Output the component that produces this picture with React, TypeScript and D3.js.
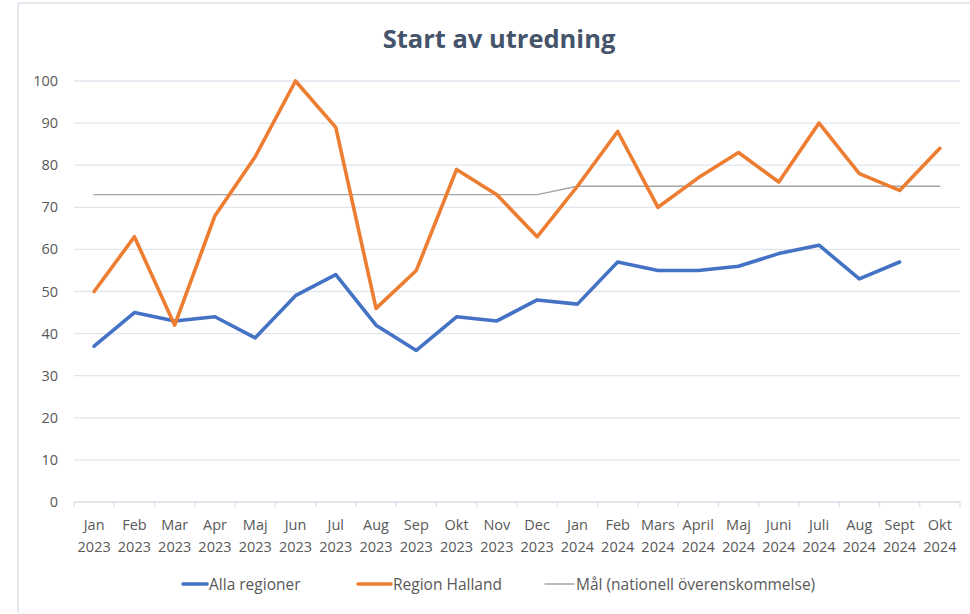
import React from 'react';
import * as d3 from 'd3';

const months = ['Jan', 'Feb', 'Mar', 'Apr', 'Maj', 'Jun', 'Jul', 'Aug', 'Sep', 'Okt', 'Nov', 'Dec', 'Jan', 'Feb', 'Mars', 'April', 'Maj', 'Juni', 'Juli', 'Aug', 'Sept', 'Okt'];
const years = ['2023', '2023', '2023', '2023', '2023', '2023', '2023', '2023', '2023', '2023', '2023', '2023', '2024', '2024', '2024', '2024', '2024', '2024', '2024', '2024', '2024', '2024'];
const allaRegioner: (number | null)[] = [37, 45, 43, 44, 39, 49, 54, 42, 36, 44, 43, 48, 47, 57, 55, 55, 56, 59, 61, 53, 57, null];
const regionHalland: (number | null)[] = [50, 63, 42, 68, 82, 100, 89, 46, 55, 79, 73, 63, 75, 88, 70, 77, 83, 76, 90, 78, 74, 84];
const malNationell: (number | null)[] = [73, 73, 73, 73, 73, 73, 73, 73, 73, 73, 73, 73, 75, 75, 75, 75, 75, 75, 75, 75, 75, 75];
const yTicks = [0, 10, 20, 30, 40, 50, 60, 70, 80, 90, 100];
const title = 'Start av utredning';
const seriesNames = ['Alla regioner', 'Region Halland', 'Mål (nationell överenskommelse)'];

const W = 970;
const H = 614;
const FONT = '"Open Sans", sans-serif';

export default function App() {
  const idx = months.map((_, i) => i);
  const x = d3.scaleBand<number>().domain(idx).range([74, 960]);
  const bw = x.bandwidth();
  const cx = (i: number) => (x(i) as number) + bw / 2;
  const y = d3.scaleLinear().domain([0, 100]).range([502, 81]);

  const lineGen = d3
    .line<number | null>()
    .defined((d) => d !== null)
    .x((_, i) => cx(i))
    .y((d) => y(d as number));

  const series = [
    { name: seriesNames[0], data: allaRegioner, color: '#4472C4', width: 3.6 },
    { name: seriesNames[1], data: regionHalland, color: '#ED7D31', width: 3.6 },
    { name: seriesNames[2], data: malNationell, color: '#A5A5A5', width: 1.4 },
  ];
  const drawOrder = [series[2], series[0], series[1]];

  const legend = [
    { s: series[0], lx: 183, tx: 209 },
    { s: series[1], lx: 358, tx: 393 },
    { s: series[2], lx: 545, tx: 576 },
  ];

  const bounds = [...idx.map((i) => x(i) as number), 960];

  return (
    <svg width={W} height={H} style={{ position: 'absolute', left: 0, top: 0, background: '#fff' }} fontFamily={FONT}>
      <rect x={0} y={0} width={W} height={H} fill="#fff" />
      {/* frame */}
      <line x1={18} x2={18} y1={3} y2={613} stroke="#e4e7ee" strokeWidth={2} />
      <line x1={18} x2={W} y1={3} y2={3} stroke="#e4e7ee" strokeWidth={2} />
      <line x1={18} x2={W} y1={613} y2={613} stroke="#f0f1f4" strokeWidth={1} />

      <text x={499} y={48} textAnchor="middle" fontSize={25.5} fontWeight={700} fill="#44546A">
        {title}
      </text>

      {/* gridlines */}
      {yTicks.filter((t) => t > 0).map((t) => (
        <line key={t} x1={74} x2={960} y1={y(t)} y2={y(t)} stroke="#e1e5ec" strokeWidth={1.3} />
      ))}
      {/* x axis */}
      <line x1={74} x2={960} y1={y(0)} y2={y(0)} stroke="#d9dde4" strokeWidth={1.3} />
      {bounds.map((b, i) => (
        <line key={i} x1={b} x2={b} y1={y(0)} y2={y(0) + 5} stroke="#d9dde4" strokeWidth={1.2} />
      ))}

      {/* y labels */}
      {yTicks.map((t) => (
        <text key={t} x={58} y={y(t) + 5} textAnchor="end" fontSize={14.5} fill="#595959">
          {t}
        </text>
      ))}

      {/* x labels */}
      {idx.map((i) => (
        <text key={i} x={cx(i)} textAnchor="middle" fontSize={14.5} fill="#595959">
          <tspan x={cx(i)} y={530}>{months[i]}</tspan>
          <tspan x={cx(i)} y={552}>{years[i]}</tspan>
        </text>
      ))}

      {/* lines */}
      {drawOrder.map((s) => (
        <path
          key={s.name}
          d={lineGen(s.data) || ''}
          fill="none"
          stroke={s.color}
          strokeWidth={s.width}
          strokeLinejoin="round"
          strokeLinecap="round"
        />
      ))}

      {/* legend */}
      {legend.map(({ s, lx, tx }) => (
        <g key={s.name}>
          <line x1={lx} x2={tx - 2} y1={584} y2={584} stroke={s.color} strokeWidth={s.width} strokeLinecap="round" />
          <text x={tx} y={589.5} fontSize={15.5} fill="#595959">
            {s.name}
          </text>
        </g>
      ))}
    </svg>
  );
}
